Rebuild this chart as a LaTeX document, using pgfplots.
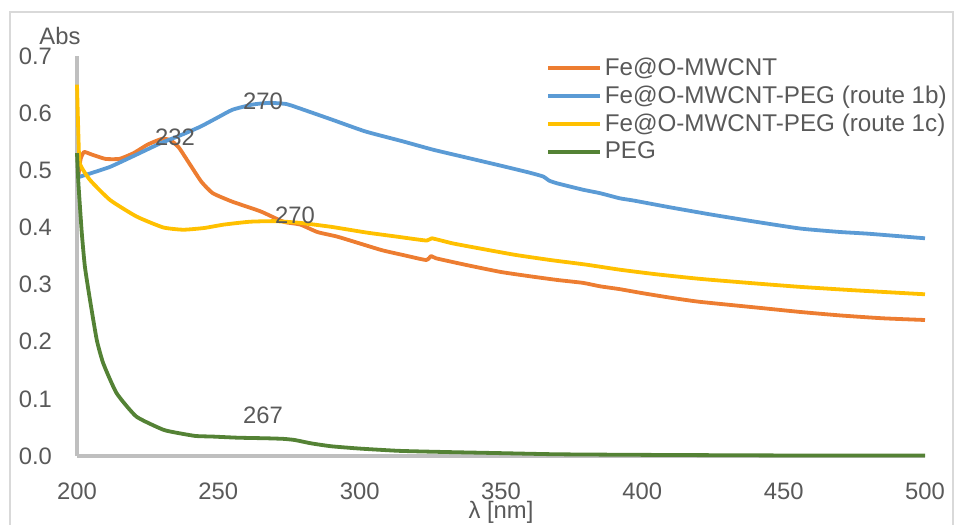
\documentclass[border=0pt]{standalone}
\usepackage{pgfplots}
\pgfplotsset{compat=1.18}
\usepackage{fontspec}
\setmainfont{Liberation Sans}
\definecolor{cOrange}{HTML}{ED7D31}
\definecolor{cBlue}{HTML}{5B9BD5}
\definecolor{cYellow}{HTML}{FFC000}
\definecolor{cGreen}{HTML}{548235}
\definecolor{cText}{HTML}{595959}
\definecolor{cAxis}{HTML}{BFBFBF}
\definecolor{cBorder}{HTML}{D9D9D9}
\begin{document}
\begin{tikzpicture}
\useasboundingbox (-38.5bp,-34.5bp) rectangle (438.5bp,228bp);
\draw[cBorder, line width=0.6bp] (-33.5bp,-40bp) rectangle (438bp,222bp);
\begin{axis}[
  at={(0,0)}, anchor=south west,
  scale only axis, width=424bp, height=200bp,
  xmin=200, xmax=500, ymin=0, ymax=0.7,
  xtick={200,250,...,500}, ytick={0,0.1,...,0.7},
  axis lines*=left,
  axis line style={draw=cAxis, line width=2.2bp, -},
  major tick length=0pt,
  font=\fontsize{11.9bp}{14bp}\selectfont,
  every tick label/.append style={text=cText},
  /pgf/number format/assume math mode=true,
  yticklabel style={/pgf/number format/.cd, fixed, fixed zerofill, precision=1, /tikz/.cd, xshift=-9bp},
  xticklabel style={/pgf/number format/.cd, set thousands separator={}, /tikz/.cd, yshift=-10bp},
  xlabel={λ [nm]},
  xlabel style={text=cText, at={(rel axis cs:0.5,0)}, anchor=center, yshift=-28bp},
  clip=false,
  legend cell align=left,
  legend style={draw=none, fill=none, at={(rel axis cs:0.546,1.012)}, anchor=north west,
    font=\fontsize{12.1bp}{14bp}\selectfont, text=cText, row sep=1.3bp,
    nodes={inner sep=1.2bp}},
  legend image code/.code={\draw[#1, line width=2bp] (0bp,0bp) -- (26bp,0bp);},
  every axis plot/.append style={line width=1.9bp, line join=round, smooth, tension=0.3},
]
\addplot[cOrange] coordinates {
(200.5,0.49)(201.3,0.52)(202.5,0.532)(205,0.528)(210,0.52)(215,0.52)(220,0.53)(225,0.545)(230,0.555)(233,0.553)(236,0.54)(240,0.51)(244,0.48)(248,0.46)(255,0.445)(265,0.428)(273,0.41)(279,0.405)(285,0.392)(292,0.384)(300,0.372)(308,0.36)(316,0.351)(323.5,0.343)(325.3,0.35)(327,0.346)(338,0.334)(350,0.322)(361,0.314)(370,0.308)(379,0.303)(385,0.297)(392,0.292)(400,0.285)(410,0.277)(420,0.27)(440,0.26)(456,0.252)(470,0.246)(485,0.241)(500,0.238)};
\addlegendentry{Fe@O-MWCNT}
\addplot[cBlue] coordinates {
(200.5,0.488)(205,0.495)(211.7,0.506)(220,0.525)(229.4,0.547)(236,0.56)(243.5,0.576)(250,0.593)(255,0.606)(262,0.615)(268,0.618)(274,0.616)(279,0.608)(290,0.589)(302,0.568)(315,0.551)(326,0.536)(338,0.522)(350,0.508)(360,0.496)(365,0.489)(367,0.482)(370,0.477)(379,0.466)(385,0.46)(392,0.451)(397,0.447)(410,0.435)(425,0.422)(440,0.41)(456,0.398)(470,0.392)(480,0.389)(500,0.381)};
\addlegendentry{Fe@O-MWCNT-PEG (route 1b)}
\addplot[cYellow] coordinates {
(200,0.65)(200.5,0.56)(201,0.512)(204.6,0.483)(211.7,0.448)(221.1,0.419)(230.5,0.40)(237.6,0.396)(245,0.399)(252,0.405)(261.2,0.41)(270,0.411)(278.9,0.408)(290,0.401)(302.5,0.391)(313,0.384)(323.7,0.377)(325.5,0.381)(333,0.372)(343.8,0.362)(355,0.352)(367.4,0.343)(380,0.335)(392.1,0.326)(405,0.318)(420.4,0.31)(440,0.302)(455.8,0.296)(475,0.29)(500,0.283)};
\addlegendentry{Fe@O-MWCNT-PEG (route 1c)}
\addplot[cGreen] coordinates {
(200,0.53)(200.5,0.477)(201.7,0.39)(202.8,0.331)(204.6,0.273)(207,0.203)(209.3,0.162)(214,0.11)(221,0.069)(230.5,0.046)(236,0.04)(242,0.035)(248,0.034)(257,0.032)(267,0.031)(273,0.03)(277,0.028)(283,0.022)(290,0.017)(300,0.013)(314,0.009)(330,0.007)(350,0.005)(370,0.003)(400,0.002)(450,0.001)(500,0.001)};
\addlegendentry{PEG}
\node[text=cText] at (axis cs:234.7,0.558) {232};
\node[text=cText] at (axis cs:265.8,0.621) {270};
\node[text=cText] at (axis cs:277.1,0.422) {270};
\node[text=cText] at (axis cs:265.8,0.072) {267};
\node[text=cText] at ([xshift=-8.5bp,yshift=10bp]rel axis cs:0,1) {Abs};
\end{axis}
\end{tikzpicture}
\end{document}
